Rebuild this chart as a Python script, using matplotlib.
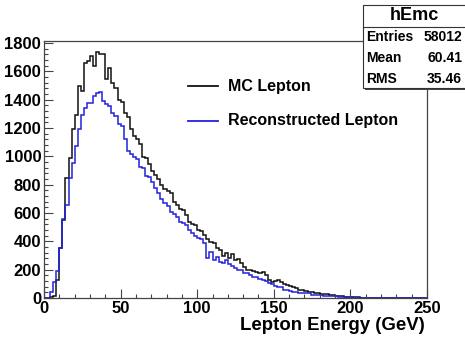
import numpy as np
import matplotlib
matplotlib.use("Agg")
import matplotlib.pyplot as plt
from matplotlib.patches import Rectangle
from matplotlib.lines import Line2D
from matplotlib.ticker import MultipleLocator

# ---- data (2 GeV bins, 0-250 GeV) ----
bin_edges = np.linspace(0, 250, 126)
mc_lepton = [
    0, 0, 5, 15, 126, 352, 550, 850, 990, 1195,
    1290, 1497, 1462, 1660, 1675, 1708, 1640, 1738, 1722, 1720,
    1545, 1626, 1520, 1480, 1400, 1385, 1310, 1275, 1195, 1146,
    1125, 1090, 995, 990, 949, 900, 870, 840, 800, 770,
    759, 740, 675, 660, 626, 620, 584, 540, 520, 513,
    478, 470, 443, 420, 396, 387, 351, 337, 300, 316,
    285, 310, 267, 275, 246, 220, 200, 197, 190, 185,
    180, 185, 160, 130, 112, 120, 126, 112, 100, 91,
    85, 77, 70, 60, 56, 50, 42, 40, 37, 35,
    30, 28, 26, 24, 18, 15, 14, 12, 10, 6,
    5, 5, 4, 3, 3, 2, 2, 1, 1, 1,
    1, 1, 0, 1, 0, 0, 0, 0, 0, 0,
    0, 0, 0, 0, 0,
]
reco_lepton = [
    0, 2, 40, 115, 190, 352, 560, 660, 850, 950,
    1076, 1190, 1290, 1345, 1375, 1380, 1425, 1450, 1455, 1392,
    1370, 1357, 1310, 1287, 1228, 1216, 1125, 1040, 1019, 993,
    980, 923, 915, 865, 853, 820, 780, 740, 700, 668,
    650, 610, 590, 575, 540, 530, 513, 478, 460, 440,
    422, 420, 387, 281, 326, 270, 290, 255, 250, 270,
    240, 225, 215, 197, 195, 176, 176, 165, 150, 148,
    135, 126, 120, 105, 100, 85, 77, 75, 60, 56,
    50, 42, 40, 37, 36, 35, 33, 22, 21, 20,
    18, 16, 14, 13, 12, 11, 9, 9, 8, 6,
    4, 3, 3, 3, 2, 2, 2, 1, 1, 1,
    1, 1, 0, 0, 0, 0, 0, 0, 0, 0,
    0, 0, 0, 0, 0,
]
series_labels = ["MC Lepton", "Reconstructed Lepton"]
series_colors = ["#111111", "#2222dd"]
x_label = "Lepton Energy (GeV)"
stats_title = "hEmc"
stats_names = ["Entries", "Mean", "RMS"]
stats_values = ["58012", "60.41", "35.46"]

W, H = 465, 341
plt.rcParams["font.family"] = ["Liberation Sans", "DejaVu Sans"]
plt.rcParams["font.weight"] = "bold"

fig = plt.figure(figsize=(W / 100, H / 100), dpi=100)
fx = lambda px: px / W
fy = lambda py: 1 - py / H

ax = fig.add_axes([fx(44), fy(298), fx(427) - fx(44), fy(41) - fy(298)])
for vals, col in zip([mc_lepton, reco_lepton], series_colors):
    ax.stairs(vals, bin_edges, color=col, lw=1.1)

ax.set_xlim(0, 250)
ax.set_ylim(0, 1815)
ax.xaxis.set_major_locator(MultipleLocator(50))
ax.xaxis.set_minor_locator(MultipleLocator(10))
ax.yaxis.set_major_locator(MultipleLocator(200))
ax.yaxis.set_minor_locator(MultipleLocator(40))
ax.tick_params(which="both", direction="in", top=False, right=False,
               color="#444444", labelsize=12, width=0.8)
ax.tick_params(which="major", length=6.5, pad=2)
ax.tick_params(which="minor", length=3.2)
for lab in ax.get_xticklabels() + ax.get_yticklabels():
    lab.set_fontweight("bold")
for s in ax.spines.values():
    s.set_color("#444444")
    s.set_linewidth(0.9)

fig.text(fx(425), fy(326), x_label, ha="right", va="center",
         fontsize=13.4, fontweight="bold")

# legend (manual, ROOT style, no frame)
leg_y = [86, 121]
for lbl, col, yy in zip(series_labels, series_colors, leg_y):
    fig.add_artist(Line2D([fx(188), fx(218)], [fy(yy), fy(yy)], color=col, lw=1.3))
    fig.text(fx(228), fy(yy), lbl, ha="left", va="center",
             fontsize=11.5, fontweight="bold")

# stats box
bx0, by0, bx1, by1 = 363, 5, 470, 88
fig.add_artist(Rectangle((fx(bx0 + 2), fy(by1 + 2)), fx(bx1) - fx(bx0),
                         fy(by0) - fy(by1), transform=fig.transFigure,
                         facecolor="#444444", edgecolor="none"))
fig.add_artist(Rectangle((fx(bx0), fy(by1)), fx(bx1) - fx(bx0),
                         fy(by0) - fy(by1), transform=fig.transFigure,
                         facecolor="white", edgecolor="#333333", lw=0.8))
fig.add_artist(Line2D([fx(bx0), fx(bx1)], [fy(27), fy(27)], color="#333333", lw=0.8))
fig.text(fx(414), fy(16), stats_title, ha="center", va="center",
         fontsize=13, fontweight="bold")
for name, val, yy in zip(stats_names, stats_values, [37, 58, 79]):
    fig.text(fx(366), fy(yy), name, ha="left", va="center", fontsize=10, fontweight="bold")
    fig.text(fx(462), fy(yy), val, ha="right", va="center", fontsize=10, fontweight="bold")

fig.savefig("out.png", dpi=100)
